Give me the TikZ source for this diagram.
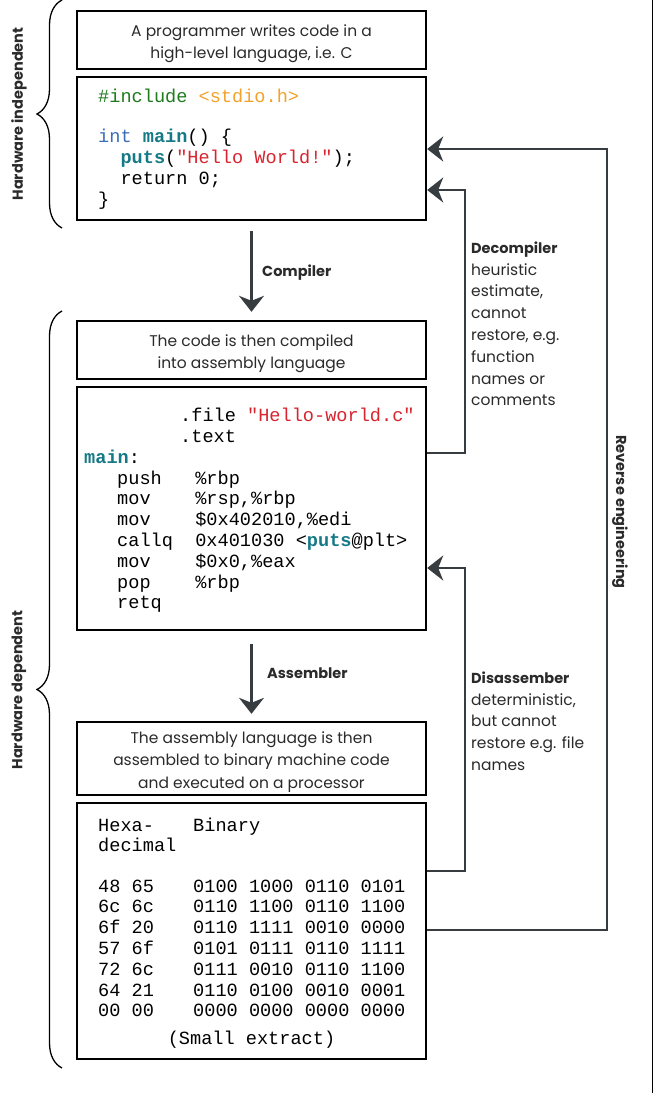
\documentclass[tikz,border=0pt]{standalone}
\usepackage{fontspec}
\setmainfont{Poppins}
\newfontfamily\codefont{Liberation Mono}
\usetikzlibrary{arrows.meta,decorations.pathreplacing}
\definecolor{lineg}{HTML}{373C40}
\definecolor{cgreen}{HTML}{1E7B1E}
\definecolor{corange}{HTML}{F2A22A}
\definecolor{cblue}{HTML}{3A6DB5}
\definecolor{cteal}{HTML}{167A86}
\definecolor{cred}{HTML}{D8242E}
\definecolor{labelg}{HTML}{2A2A2A}
\begin{document}
\begin{tikzpicture}[x=1pt,y=-1pt,
  box/.style={draw=black, line width=2.4pt, minimum width=349pt, inner sep=0pt},
  boxtext/.style={inner sep=0pt, align=center, font=\fontsize{15.5}{21.5}\selectfont, text=labelg},
  code/.style={anchor=base west, inner sep=0pt, font=\codefont\fontsize{18.6}{21}\selectfont},
  conn/.style={draw=lineg, line width=2.2pt, -{Stealth[length=16pt,width=25pt,inset=5pt]}},
  side/.style={anchor=north west, inner sep=0pt, align=left, text=labelg,
    font=\fontsize{15.5}{21.8}\selectfont},
  steplabel/.style={anchor=base west, inner sep=0pt, text=labelg, font=\bfseries\fontsize{14.5}{18}\selectfont},
  rotlabel/.style={inner sep=0pt, text=labelg, font=\bfseries\fontsize{14.5}{18}\selectfont},
  bracestyle/.style={draw=black, line width=1.3pt, decorate, decoration={brace, amplitude=25pt}}
]
\useasboundingbox (0,0) rectangle (660,1093);
% page edge line
\coordinate (edgeT) at (652,0);
\coordinate (edgeB) at (652,1093);
\draw[line width=1pt] (edgeT) -- (edgeB);

% boxes
\node[box, minimum height=58pt] (b1) at (251.5,40) {};
\node[boxtext] (t1) at (251.5,43.5) {A programmer writes code in a\\high-level language, i.e. C};
\node[box, minimum height=143pt] (b2) at (251.5,148.5) {};
\node[box, minimum height=58pt] (b3) at (251.5,350) {};
\node[boxtext] (t3) at (251.5,353.5) {The code is then compiled\\into assembly language};
\node[box, minimum height=243pt] (b4) at (251.5,508.5) {};
\node[box, minimum height=73pt] (b5) at (251.5,758.5) {};
\node[boxtext, font=\fontsize{15.5}{22.3}\selectfont] (t5) at (251.5,762) {The assembly language is then\\assembled to binary machine code\\and executed on a processor};
\node[box, minimum height=256pt] (b6) at (251.5,931) {};

% C code
\node[code] (c1) at (98,102) {\textcolor{cgreen}{\#include} \textcolor{corange}{<stdio.h>}};
\node[code] (c2) at (98,142) {\textcolor{cblue}{int} \textcolor{cteal}{\bfseries main}() \{};
\node[code] (c3) at (98,163) {~~\textcolor{cteal}{\bfseries puts}(\textcolor{cred}{"Hello World!"});};
\node[code] (c4) at (98,184) {~~return 0;};
\node[code] (c5) at (98,205) {\}};

% assembly
\node[code] (a1) at (180,421) {.file \textcolor{cred}{"Hello-world.c"}};
\node[code] (a2) at (180,442) {.text};
\node[code] (a3) at (84,463) {\textcolor{cteal}{\bfseries main}:};
\node[code] (a4) at (117,484) {push~~~\%rbp};
\node[code] (a5) at (117,504.8) {mov~~~~\%rsp,\%rbp};
\node[code] (a6) at (117,525.6) {mov~~~~\$0x402010,\%edi};
\node[code] (a7) at (117,546.4) {callq~~0x401030 <\textcolor{cteal}{\bfseries puts}@plt>};
\node[code] (a8) at (117,567.2) {mov~~~~\$0x0,\%eax};
\node[code] (a9) at (117,588) {pop~~~~\%rbp};
\node[code] (a10) at (117,608.8) {retq};

% binary
\node[code] (hh1) at (98,831) {Hexa-};
\node[code] (hb1) at (193,831) {Binary};
\node[code] (hh2) at (98,851.5) {decimal};
\foreach \yy/\hx/\bn [count=\i] in {892/48 65/0100 1000 0110 0101,
  912.8/6c 6c/0110 1100 0110 1100,
  933.6/6f 20/0110 1111 0010 0000,
  954.4/57 6f/0101 0111 0110 1111,
  975.2/72 6c/0111 0010 0110 1100,
  996/64 21/0110 0100 0010 0001,
  1016.8/00 00/0000 0000 0000 0000}{
  \node[code] (hx\i) at (98,\yy) {\hx};
  \node[code] (bn\i) at (193,\yy) {\bn};
}
\node[code, anchor=base] (small) at (251.5,1044) {(Small extract)};

% down arrows
\draw[conn, shorten <=10pt, shorten >=8pt] (b2.south) -- (b3.north);
\node[steplabel] (lcomp) at (262,276) {Compiler};
\draw[conn, shorten <=13pt, shorten >=7pt] (b4.south) -- (b5.north);
\node[steplabel] (lasm) at (267,678) {Assembler};

% right connectors
\coordinate (dcU) at (465,190);
\coordinate (dcD) at (465,453);
\draw[conn] (b4.east |- dcD) -- (dcD) -- (dcU) -- (b2.east |- dcU);
\coordinate (daU) at (465,568);
\coordinate (daD) at (465,871);
\draw[conn] (b6.east |- daD) -- (daD) -- (daU) -- (b4.east |- daU);
\coordinate (reU) at (607,149);
\coordinate (reD) at (607,930);
\draw[conn] (b6.east |- reD) -- (reD) -- (reU) -- (b2.east |- reU);

\node[side] (ldec) at (471,241.5) {\textbf{\fontsize{14.5}{21.8}\selectfont Decompiler}\\heuristic\\estimate,\\cannot\\restore, e.g.\\function\\names or\\comments};
\node[side] (ldis) at (471,671.5) {\textbf{\fontsize{14.5}{21.8}\selectfont Disassember}\\deterministic,\\but cannot\\restore e.g. file\\names};
\node[rotlabel, rotate=-90] (lrev) at (620,512) {Reverse engineering};

% braces
\coordinate (brTb) at (62,228);
\coordinate (brTt) at (62,0);
\draw[bracestyle] (brTb) -- (brTt);
\coordinate (brBb) at (62,1068);
\coordinate (brBt) at (62,311);
\draw[bracestyle] (brBb) -- (brBt);
\node[rotlabel, rotate=90] (lhi) at (19,114) {Hardware independent};
\node[rotlabel, rotate=90] (lhd) at (19,690) {Hardware dependent};
\end{tikzpicture}
\end{document}
